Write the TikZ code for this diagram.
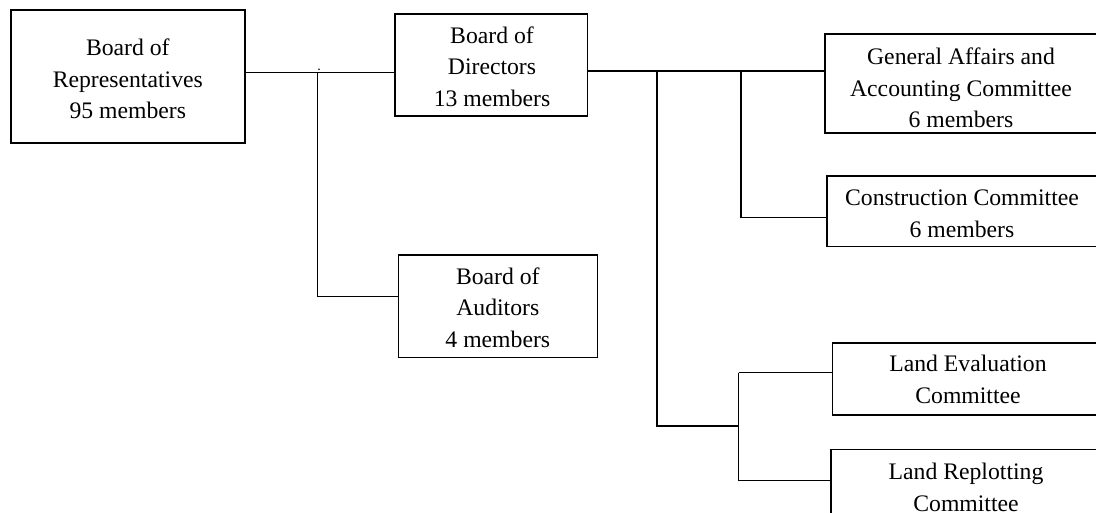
\documentclass[tikz,border=0pt]{standalone}
\usepackage{fontspec}
\setmainfont{Liberation Serif}
\begin{document}
\begin{tikzpicture}[x=1pt,y=-1pt,
  box/.style={draw,line width=1.6pt,inner sep=0pt,rectangle},
  txt/.style={inner sep=0pt,align=center,font=\fontsize{23.7}{31.5}\selectfont},
  conn/.style={line width=1.4pt}]
\useasboundingbox (0,0) rectangle (1096,513);
\clip (0,0) rectangle (1096,513);
% boxes
\node[box,minimum width=234.3pt,minimum height=133pt] (rep) at (127.85,76.5) {};
\node[box,minimum width=192.6pt,minimum height=102pt] (dir) at (491,65) {};
\node[box,minimum width=199pt,minimum height=102.3pt] (aud) at (497.8,306.2) {};
\node[box,minimum width=272pt,minimum height=99pt] (ga) at (961,83.5) {};
\node[box,minimum width=270pt,minimum height=70.7pt] (con) at (962,211.3) {};
\node[box,minimum width=271.7pt,minimum height=72.3pt] (le) at (968.2,378.9) {};
\node[box,minimum width=270pt,minimum height=76.6pt] (lr) at (966,487.6) {};
% texts
\node[txt] (repT) at (127.8,79) {Board of\\Representatives\\95 members};
\node[txt] (dirT) at (492,66.5) {Board of\\Directors\\13 members};
\node[txt] (audT) at (497.8,307.7) {Board of\\Auditors\\4 members};
\node[txt] (gaT) at (961,88) {General Affairs and\\Accounting Committee\\6 members};
\node[txt] (conT) at (962,214) {Construction Committee\\6 members};
\node[txt] (leT) at (968,379.5) {Land Evaluation\\Committee};
\node[txt] (lrT) at (966,487.5) {Land Replotting\\Committee};
% junctions
\coordinate (j1) at (317.3,72.3);
\coordinate (ja) at (317.3,296.7);
\coordinate (j2) at (657,71);
\coordinate (j3) at (741,71);
\coordinate (jc) at (741,217.7);
\coordinate (jd) at (657,426);
\coordinate (j4) at (738.7,426);
\coordinate (j5) at (738.7,372.7);
\coordinate (j6) at (738.7,480.7);
\coordinate (dot) at (319,69.3);
% connectors
\draw[conn] (rep.east |- j1) -- (dir.west |- j1);
\draw[conn] (j1) -- (ja) -- (aud.west |- ja);
\fill (dot) circle (0.9pt);
\draw[conn] (dir.east |- j2) -- (ga.west |- j2);
\draw[conn] (j3) -- (jc) -- (con.west |- jc);
\draw[conn] (j2) -- (jd) -- (j4);
\draw[conn] (j5) -- (j6);
\draw[conn] (j5) -- (le.west |- j5);
\draw[conn] (j6) -- (lr.west |- j6);
\end{tikzpicture}
\end{document}
